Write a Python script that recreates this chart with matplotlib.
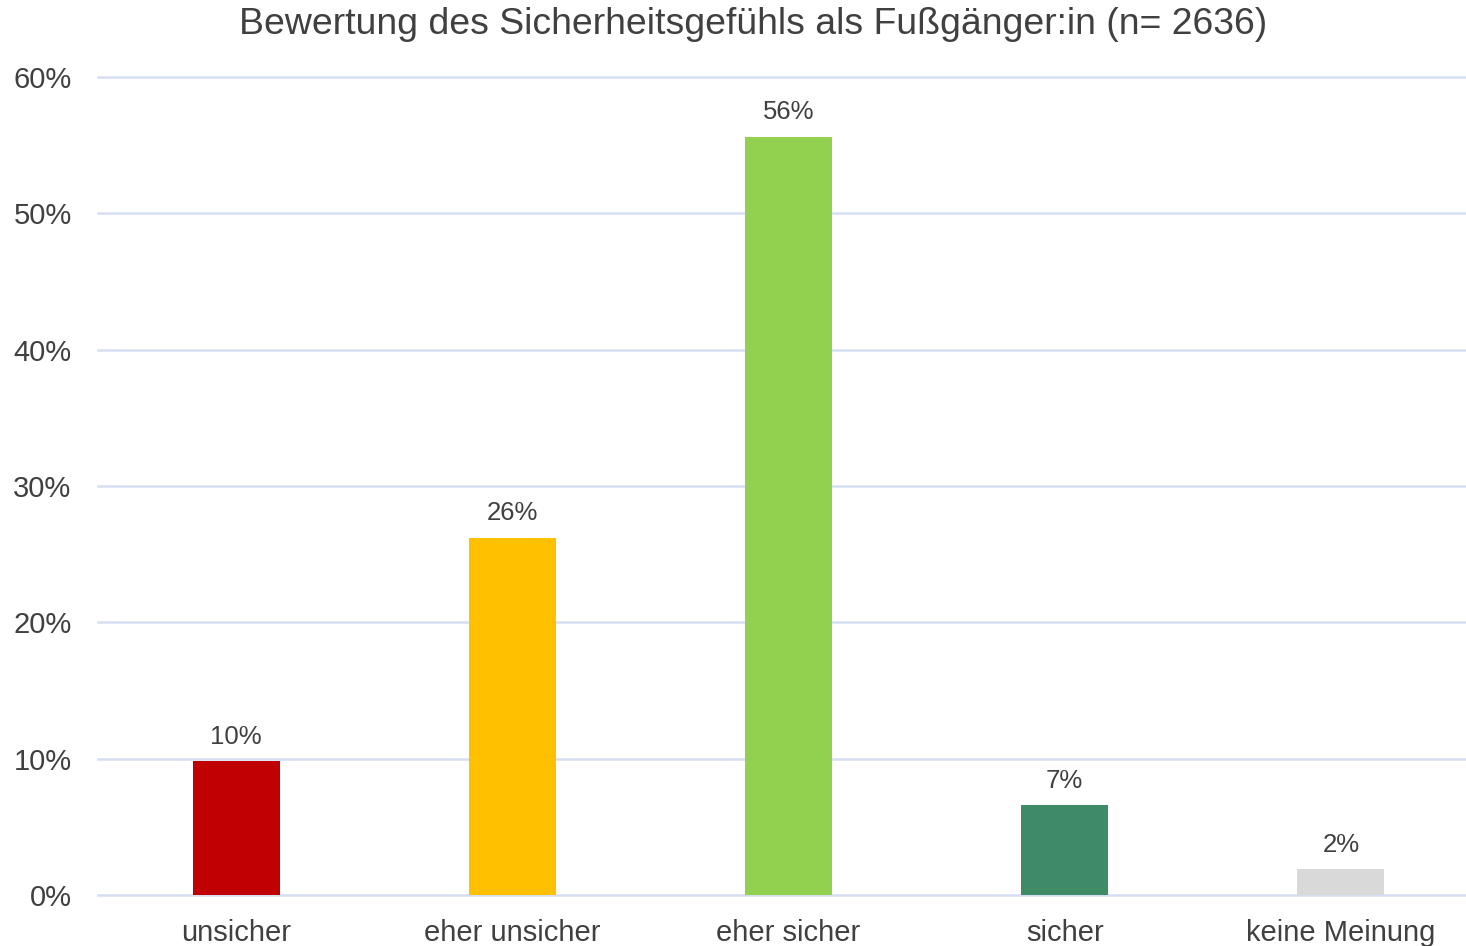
import matplotlib
matplotlib.use("Agg")
import matplotlib.pyplot as plt
from matplotlib.ticker import FuncFormatter, MultipleLocator

categories = ["unsicher", "eher unsicher", "eher sicher", "sicher", "keine Meinung"]
shares = [9.8, 26.2, 55.6, 6.6, 1.9]
colors = ["#C00000", "#FFC000", "#92D050", "#3F8A67", "#D9D9D9"]
title = "Bewertung des Sicherheitsgefühls als Fußgänger:in (n= 2636)"

plt.rcParams["font.family"] = ["Liberation Sans", "DejaVu Sans"]
text_color = "#404040"
grid_color = "#D6DEF4"

W, H = 1466, 946
fig = plt.figure(figsize=(W / 100, H / 100), dpi=100)
fig.patch.set_facecolor("white")

# axes extends slightly beyond the right edge
left, right = 98, 1479
bottom, top = 895, 77
ax = fig.add_axes([left / W, 1 - bottom / H, (right - left) / W, (bottom - top) / H])

x = range(len(categories))
ax.bar(x, shares, width=0.315, color=colors, zorder=3)

for xi, v in zip(x, shares):
    ax.annotate(f"{v:.0f}%", (xi, v), xytext=(0, 9), textcoords="offset points",
                ha="center", va="bottom", fontsize=18.5, color=text_color)

ax.set_xlim(-0.5, len(categories) - 0.5)
ax.set_ylim(0, 60)
ax.yaxis.set_major_locator(MultipleLocator(10))
ax.yaxis.set_major_formatter(FuncFormatter(lambda v, p: f"{v:.0f}%"))
ax.set_xticks(list(x))
ax.set_xticklabels(categories)

ax.grid(axis="y", color=grid_color, linewidth=1.8, zorder=0)
ax.set_axisbelow(True)
for gl in ax.get_ygridlines():
    gl.set_clip_on(False)
for s in ax.spines.values():
    s.set_visible(False)
ax.tick_params(axis="both", length=0, labelsize=21, labelcolor=text_color)
ax.tick_params(axis="y", pad=19)
ax.tick_params(axis="x", pad=17)
for lbl in ax.get_yticklabels():
    lbl.set_horizontalalignment("right")

fig.text(753 / W, 1 - 25 / H, title, ha="center", va="center",
         fontsize=26.9, color=text_color)

fig.savefig("out.png", dpi=100, facecolor="white")
